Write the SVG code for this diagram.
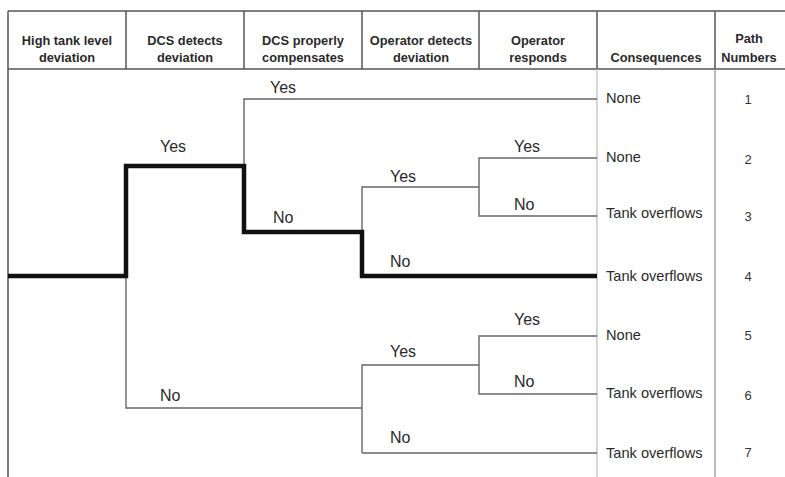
<svg xmlns="http://www.w3.org/2000/svg" width="785" height="477" viewBox="0 0 785 477">
  <style>
    .head { font-family: "Liberation Sans", Arial, sans-serif; font-size: 12.8px; font-weight: bold; fill: #2a2a2a; text-anchor: middle; }
    .lbl { font-family: "Liberation Sans", Arial, sans-serif; font-size: 16px; fill: #2a2a2a; }
    .cons { font-family: "Liberation Sans", Arial, sans-serif; font-size: 14.6px; fill: #2a2a2a; }
    .num { font-family: "Liberation Sans", Arial, sans-serif; font-size: 13px; fill: #333; text-anchor: middle; }
    .grid { stroke: #555; stroke-width: 1.5; fill: none; }
    .thin { stroke: #666; stroke-width: 1.4; fill: none; }
    .thick { stroke: #111; stroke-width: 4.5; fill: none; stroke-linejoin: miter; }
  </style>
  <rect width="785" height="477" fill="#fff"/>

  <!-- table frame and column rules -->
  <g id="table">
    <line class="grid" x1="8" y1="11" x2="785" y2="11"/>
    <line class="grid" x1="8" y1="69" x2="785" y2="69"/>
    <line class="grid" x1="8" y1="11" x2="8" y2="477"/>
    <line class="grid" x1="126" y1="11" x2="126" y2="69"/>
    <line class="grid" x1="244" y1="11" x2="244" y2="69"/>
    <line class="grid" x1="362" y1="11" x2="362" y2="69"/>
    <line class="grid" x1="479" y1="11" x2="479" y2="69"/>
    <line class="grid" x1="597" y1="11" x2="597" y2="69"/>
    <line class="grid" x1="715" y1="11" x2="715" y2="69"/>
    <line x1="597" y1="69" x2="597" y2="477" stroke="#c4c4c4" stroke-width="1.4"/>
    <line x1="715" y1="69" x2="715" y2="477" stroke="#9a9a9a" stroke-width="1.3"/>
  </g>

  <!-- column headings -->
  <g id="headers">
    <text class="head" x="67" y="45">High tank level</text>
    <text class="head" x="67" y="62">deviation</text>
    <text class="head" x="185" y="45">DCS detects</text>
    <text class="head" x="185" y="62">deviation</text>
    <text class="head" x="303" y="45">DCS properly</text>
    <text class="head" x="303" y="62">compensates</text>
    <text class="head" x="421" y="45">Operator detects</text>
    <text class="head" x="421" y="62">deviation</text>
    <text class="head" x="538" y="45">Operator</text>
    <text class="head" x="538" y="62">responds</text>
    <text class="head" x="656" y="62">Consequences</text>
    <text class="head" x="749" y="43">Path</text>
    <text class="head" x="749" y="62">Numbers</text>
  </g>

  <!-- event tree branches -->
  <g id="connectors">
    <!-- DCS detects: No branch -->
    <polyline class="thin" points="126,276 126,408 362,408"/>
    <!-- DCS compensates: Yes branch -->
    <polyline class="thin" points="244,166 244,99 597,99"/>
    <!-- operator detects (upper) -->
    <polyline class="thin" points="362,232 362,187 479,187"/>
    <polyline class="thin" points="597,158 479,158 479,216 597,216"/>
    <!-- operator detects (lower) -->
    <polyline class="thin" points="362,453 362,365 479,365"/>
    <polyline class="thin" points="597,336 479,336 479,394 597,394"/>
    <line class="thin" x1="362" y1="453" x2="597" y2="453"/>
    <!-- highlighted path 4 -->
    <polyline class="thick" points="8,276 126,276 126,166 244,166 244,232 362,232 362,276 597,276"/>
  </g>

  <!-- branch labels -->
  <g id="labels">
    <text class="lbl" x="270" y="93">Yes</text>
    <text class="lbl" x="160" y="152">Yes</text>
    <text class="lbl" x="273" y="223">No</text>
    <text class="lbl" x="390" y="182">Yes</text>
    <text class="lbl" x="514" y="152">Yes</text>
    <text class="lbl" x="514" y="210">No</text>
    <text class="lbl" x="390" y="267">No</text>
    <text class="lbl" x="514" y="325">Yes</text>
    <text class="lbl" x="390" y="357">Yes</text>
    <text class="lbl" x="514" y="387">No</text>
    <text class="lbl" x="160" y="401">No</text>
    <text class="lbl" x="390" y="443">No</text>
  </g>

  <!-- outcomes -->
  <g id="consequences">
    <text class="cons" x="606" y="103">None</text>
    <text class="cons" x="606" y="162">None</text>
    <text class="cons" x="606" y="218">Tank overflows</text>
    <text class="cons" x="606" y="281">Tank overflows</text>
    <text class="cons" x="606" y="340">None</text>
    <text class="cons" x="606" y="398">Tank overflows</text>
    <text class="cons" x="606" y="458">Tank overflows</text>
  </g>

  <g id="path-numbers">
    <text class="num" x="748" y="104">1</text>
    <text class="num" x="748" y="164">2</text>
    <text class="num" x="748" y="221">3</text>
    <text class="num" x="748" y="281">4</text>
    <text class="num" x="748" y="340">5</text>
    <text class="num" x="748" y="400">6</text>
    <text class="num" x="748" y="457">7</text>
  </g>
</svg>
